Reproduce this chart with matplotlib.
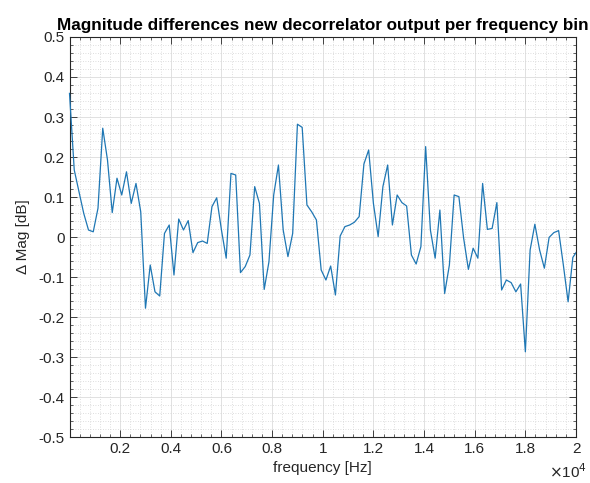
import numpy as np
import matplotlib
matplotlib.use("Agg")
import matplotlib.pyplot as plt
from matplotlib.ticker import MultipleLocator, FuncFormatter
from matplotlib.transforms import Bbox, TransformedBbox

# ---- data ----
bin_width_hz = 187.5
delta_mag = [
    0.359, 0.1675, 0.113, 0.059, 0.0175, 0.013, 0.072, 0.272, 0.1925, 0.061,
    0.147, 0.105, 0.163, 0.084, 0.134, 0.063, -0.178, -0.07, -0.137, -0.1475,
    0.009, 0.03, -0.095, 0.045, 0.0175, 0.041, -0.039, -0.014, -0.01, -0.016,
    0.076, 0.098, 0.0175, -0.053, 0.159, 0.155, -0.089, -0.074, -0.045, 0.126,
    0.084, -0.131, -0.062, 0.105, 0.18, 0.0175, -0.049, 0.009, 0.282, 0.274,
    0.08, 0.063, 0.0425, -0.0825, -0.1075, -0.0725, -0.145, 0.0025, 0.026, 0.03,
    0.037, 0.051, 0.1825, 0.2175, 0.084, 0.001, 0.126, 0.18, 0.03, 0.105,
    0.086, 0.0775, -0.045, -0.0675, -0.024, 0.226, 0.0175, -0.053, 0.0675, -0.141,
    -0.07, 0.105, 0.101, -0.003, -0.081, -0.028, -0.053, 0.134, 0.019, 0.0215,
    0.086, -0.1325, -0.1075, -0.114, -0.137, -0.1175, -0.287, -0.0325, 0.032, -0.0325,
    -0.078, -0.001, 0.011, 0.016, -0.07, -0.162, -0.051, -0.033,
]
freq_hz = np.arange(len(delta_mag)) * bin_width_hz

x_ticks = [2000, 4000, 6000, 8000, 10000, 12000, 14000, 16000, 18000, 20000]
y_ticks = [-0.5, -0.4, -0.3, -0.2, -0.1, 0, 0.1, 0.2, 0.3, 0.4, 0.5]

title = "Magnitude differences new decorrelator output per frequency bin"
xlabel = "frequency [Hz]"
ylabel = "\u0394 Mag [dB]"

# ---- style ----
plt.rcParams['font.family'] = ['Liberation Sans', 'DejaVu Sans']
axc = '#262626'

fig = plt.figure(figsize=(5.9, 4.83), dpi=100)
fig.patch.set_facecolor('white')
ax = fig.add_axes([0.1178, 0.0952, 0.9763 - 0.1178, 0.9234 - 0.0952])

line, = ax.plot(freq_hz, delta_mag, color='#1f77b4', lw=0.9, zorder=3)
line.set_clip_box(TransformedBbox(Bbox([[-0.006, 0.0], [1.0, 1.0]]), ax.transAxes))

ax.set_xlim(0, 20000)
ax.set_ylim(-0.5, 0.5)
ax.set_xticks(x_ticks)
ax.set_yticks(y_ticks)
ax.xaxis.set_minor_locator(MultipleLocator(400))
ax.yaxis.set_minor_locator(MultipleLocator(0.02))
ax.xaxis.set_major_formatter(FuncFormatter(lambda v, p: f"{v/1e4:g}"))
ax.yaxis.set_major_formatter(FuncFormatter(lambda v, p: f"{v:g}"))

ax.grid(True, which='major', color='#dcdcdc', lw=0.6, ls='-')
ax.grid(True, which='minor', color='#d4d4d4', lw=0.6, ls=(0, (1, 2)))
ax.set_axisbelow(True)

ax.tick_params(which='both', direction='in', top=True, right=True,
               colors=axc, labelsize=11, labelcolor=axc)
ax.tick_params(which='major', length=5, width=0.6)
ax.tick_params(which='minor', length=2.5, width=0.5)
for s in ax.spines.values():
    s.set_color(axc)
    s.set_linewidth(0.8)
    s.set_zorder(2)

ax.set_title(title, fontsize=12.3, fontweight='bold', color='black', pad=5)
ax.set_xlabel(xlabel, fontsize=11, color=axc, labelpad=4)
ax.set_ylabel(ylabel, fontsize=11, color=axc, labelpad=6)
fig.text(0.995, 0.004, r"$\times$10$^4$", ha='right', va='bottom',
         fontsize=11, color=axc)

fig.savefig("out.png", dpi=100)
